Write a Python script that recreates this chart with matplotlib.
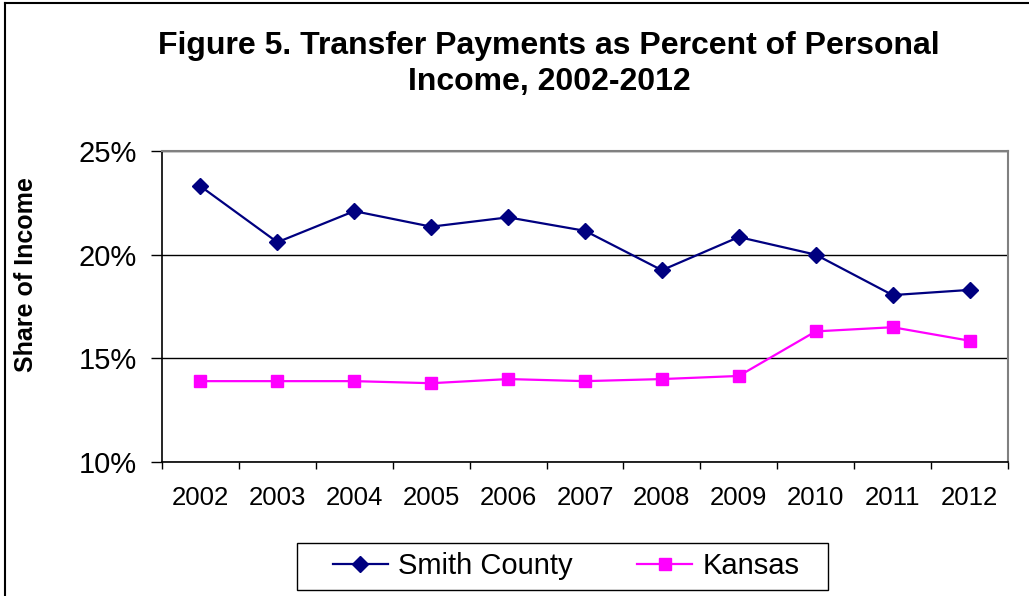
import numpy as np
import matplotlib.pyplot as plt
from matplotlib.patches import Rectangle
from matplotlib.lines import Line2D
from matplotlib.ticker import FixedLocator

plt.rcParams['font.family'] = ['Liberation Sans', 'DejaVu Sans']

# data
years = ["2002", "2003", "2004", "2005", "2006", "2007", "2008", "2009", "2010", "2011", "2012"]
smith_county = [23.3, 20.6, 22.1, 21.35, 21.8, 21.15, 19.25, 20.85, 20.0, 18.05, 18.3]
kansas = [13.9, 13.9, 13.9, 13.8, 14.0, 13.9, 14.0, 14.15, 16.3, 16.5, 15.85]
y_ticks = [10, 15, 20, 25]

W, H = 1029, 596
fig = plt.figure(figsize=(W / 100, H / 100), dpi=100)
ax = fig.add_axes([162 / W, 1 - 462 / H, 846 / W, 311 / H])

x = np.arange(len(years))
ax.plot(x, smith_county, color='#000080', lw=1.6, marker='D', ms=8,
        label='Smith County', zorder=3)
ax.plot(x, kansas, color='#FF00FF', lw=1.6, marker='s', ms=9,
        label='Kansas', zorder=3)

ax.set_xlim(-0.5, len(years) - 0.5)
ax.set_ylim(10, 25)

# category axis: ticks on boundaries, labels centered
ax.xaxis.set_major_locator(FixedLocator(np.arange(len(years) + 1) - 0.5))
ax.xaxis.set_minor_locator(FixedLocator(x))
ax.set_xticklabels([])
ax.set_xticklabels(years, minor=True, fontsize=18.5)
ax.tick_params(axis='x', which='major', direction='out', length=5, width=1, color='black')
ax.tick_params(axis='x', which='minor', length=0, pad=17)

ax.set_yticks(y_ticks)
ax.set_yticklabels([f"{v}%" for v in y_ticks], fontsize=21)
ax.tick_params(axis='y', direction='out', length=8, width=1, pad=10)

ax.yaxis.grid(True, color='black', lw=1)
ax.set_axisbelow(True)

for side in ['top', 'right']:
    ax.spines[side].set_color('#808080')
    ax.spines[side].set_linewidth(1.5)
for side in ['left', 'bottom']:
    ax.spines[side].set_color('black')
    ax.spines[side].set_linewidth(1.2)

fig.text(26 / W, 1 - 275 / H, 'Share of Income', rotation=90, ha='center', va='center',
         fontsize=18, fontweight='bold')

fig.text(549 / W, 1 - 64 / H, 'Figure 5. Transfer Payments as Percent of Personal\nIncome, 2002-2012',
         ha='center', va='center', fontsize=23, fontweight='bold', linespacing=1.3)

# legend box drawn as a plain frame, entries centered inside it
fig.patches.append(Rectangle((297 / W, 1 - 590 / H), 531 / W, 47 / H, transform=fig.transFigure,
                             fill=False, edgecolor='black', lw=1))
leg = fig.legend(loc='center', bbox_to_anchor=(566 / W, 1 - 566.5 / H), ncol=2, fontsize=21,
                 frameon=False, borderpad=0, handlelength=1.9, columnspacing=2.2,
                 handletextpad=0.34)
for h in leg.legend_handles:
    h.set_markersize(8)

# outer chart border (left and top edges only)
fig.add_artist(Line2D([5 / W, 5 / W], [0, 1 - 3 / H], transform=fig.transFigure,
                      color='black', lw=1.5))
fig.add_artist(Line2D([5 / W, 1], [1 - 3 / H, 1 - 3 / H], transform=fig.transFigure,
                      color='black', lw=1.5))

fig.savefig('out.png', dpi=100)
